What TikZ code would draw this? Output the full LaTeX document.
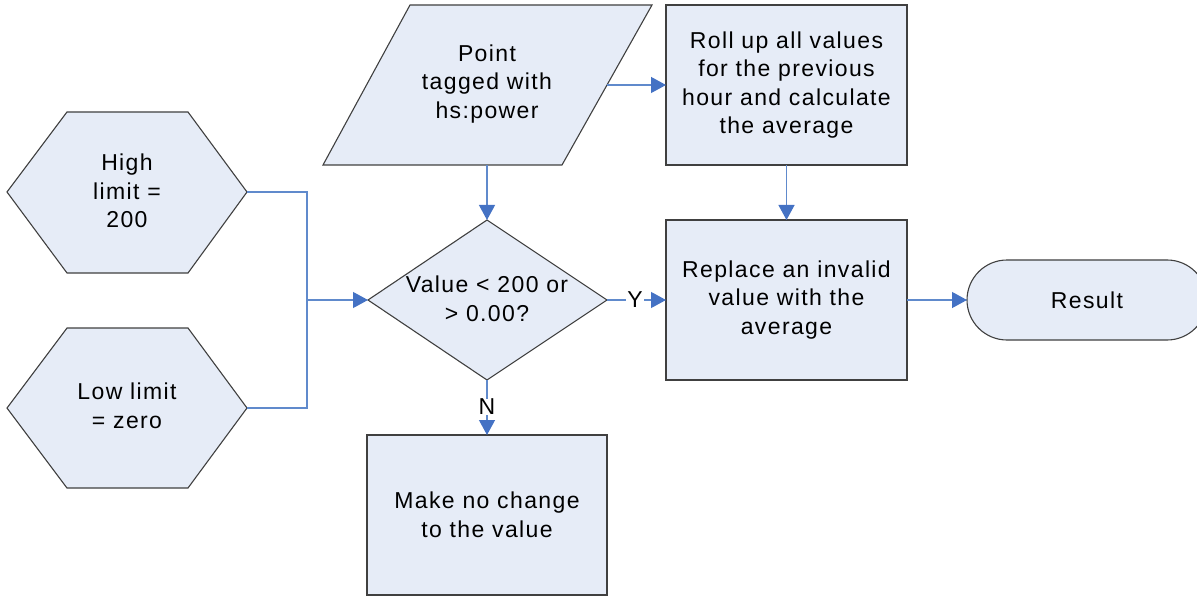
\documentclass[tikz,border=0pt]{standalone}
\usepackage{fontspec}
\setmainfont{Liberation Sans}[LetterSpace=6]
\usetikzlibrary{arrows.meta}
\definecolor{boxfill}{RGB}{230,236,247}
\definecolor{boxline}{RGB}{64,64,64}
\definecolor{connline}{RGB}{96,138,204}
\definecolor{arrowblue}{RGB}{68,114,196}
\begin{document}
\begin{tikzpicture}[x=1pt,y=-1pt,
  shapefill/.style={fill=boxfill,draw=boxline,line width=1.1pt},
  lbl/.style={align=center,inner sep=0pt,font=\fontsize{23}{28.5}\selectfont},
  rectbox/.style={shapefill,lbl,outer sep=0pt,minimum width=241pt,minimum height=160pt},
  conn/.style={draw=connline,line width=1.2pt},
  arr/.style={conn,-{Triangle[length=15pt,width=16pt,color=arrowblue]}},
]
\useasboundingbox (0,0) rectangle (1197,596);
\clip (0,0) rectangle (1197,596);

% high limit hexagon
\coordinate (h1r) at (247,192);
\draw[shapefill] (7,192) -- (67,112) -- (188,112) -- (h1r) -- (188,273) -- (67,273) -- cycle;
\node[lbl] (high) at (127,191) {High\\limit =\\200};

% low limit hexagon
\coordinate (h2r) at (247,408);
\draw[shapefill] (7,408) -- (67,328) -- (188,328) -- (h2r) -- (188,488) -- (67,488) -- cycle;
\node[lbl] (low) at (127,406) {Low limit\\= zero};

% point parallelogram
\coordinate (pr) at (607,85);
\coordinate (pb) at (487,165);
\draw[shapefill] (410,5) -- (652,5) -- (562,165) -- (323,165) -- cycle;
\node[lbl] (point) at (487,84) {Point\\tagged with\\hs:power};

% diamond
\coordinate (dt) at (487,220);
\coordinate (dr) at (607,300);
\coordinate (db) at (487,380);
\coordinate (dl) at (368,300);
\draw[shapefill] (dt) -- (dr) -- (db) -- (dl) -- cycle;
\node[lbl] (cond) at (487,299) {Value < 200 or\\> 0.00?};

% boxes
\node[rectbox] (roll) at (786.5,85) {Roll up all values\\for the previous\\hour and calculate\\the average};
\node[rectbox] (rep) at (786.5,300) {Replace an invalid\\value with the\\average};
\node[rectbox,minimum width=240pt] (make) at (487,515) {Make no change\\to the value};
\node[shapefill,lbl,outer sep=0pt,rounded corners=40pt,minimum width=240pt,minimum height=80pt] (res) at (1087,300) {Result};

% connectors
\coordinate (jn) at (307,300);
\draw[conn] (h1r) -| (jn);
\draw[conn] (h2r) -| (jn);
\draw[arr] (jn) -- (dl);
\draw[arr] (pr) -- (roll.west |- pr);
\draw[arr] (pb) -- (dt);
\draw[arr] (roll.south) -- (rep.north);
\node[lbl,inner xsep=1.5pt] (ylab) at (635,300) {Y};
\draw[conn] (dr) -- (ylab.west);
\draw[arr] (ylab.east) -- (rep.west);
\node[lbl] (nlab) at (487,407) {N};
\draw[conn] (db) -- (nlab.north);
\draw[arr] (nlab.south) -- (make.north);
\draw[arr] (rep.east) -- (res.west);
\end{tikzpicture}
\end{document}
